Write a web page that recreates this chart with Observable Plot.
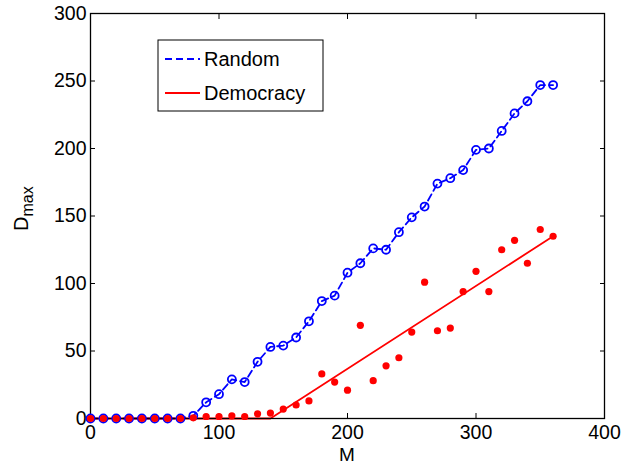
<!DOCTYPE html>
<html>
<head>
<meta charset="utf-8">
<script src="https://cdn.jsdelivr.net/npm/d3@7"></script>
<script src="https://cdn.jsdelivr.net/npm/@observablehq/plot@0.6"></script>
<style>
  html, body { margin: 0; padding: 0; background: #fff; }
  #chart svg { display: block; }
</style>
</head>
<body>
<div id="chart"></div>
<script>
// ---- data ----
const M = [0,10,20,30,40,50,60,70,80,90,100,110,120,130,140,150,160,170,180,190,200,210,220,230,240,250,260,270,280,290,300,310,320,330,340,350,360];
const randomD = [0,0,0,0,0,0,0,0,2,12,18,29,27,42,53,54,60,72,87,91,108,115,126,125,138,149,157,174,178,184,199,200,213,226,235,247,247];
const democracyD = [0,0,0,0,0,0,0,0,0.5,1.5,1.5,2,1.5,3.5,4,7,10,13,33,27,21,69,28,39,45,64,101,65,67,94,109,94,125,132,115,140,135];
const fitM = [0,140,360];
const fitD = [0,0,135];
const xTicks = [0,100,200,300,400];
const yTicks = [0,50,100,150,200,250,300];
const seriesNames = ["Random","Democracy"];
const colors = ["#0000ff","#ff0000"];

const randomData = M.map((m,i) => ({M: m, D: randomD[i]}));
const demoData = M.map((m,i) => ({M: m, D: democracyD[i]}));
const fitData = fitM.map((m,i) => ({M: m, D: fitD[i]}));

const font = "'Liberation Sans', Arial, Helvetica, sans-serif";

const chart = Plot.plot({
  width: 624,
  height: 465,
  marginLeft: 90,
  marginRight: 20,
  marginTop: 13,
  marginBottom: 47,
  style: {fontFamily: font, fontSize: "19.5px", color: "#000", background: "#fff"},
  x: {domain: [0,400]},
  y: {domain: [0,300]},
  marks: [
    Plot.line(randomData, {x: "M", y: "D", stroke: colors[0], strokeWidth: 1.8, strokeDasharray: "7,4"}),
    Plot.line(fitData, {x: "M", y: "D", stroke: colors[1], strokeWidth: 1.8}),
    Plot.frame({stroke: "#000", strokeWidth: 1.3}),
    Plot.axisX({ticks: xTicks, tickSize: -5, tickPadding: 12, label: null, tickFormat: d => d}),
    Plot.axisX({anchor: "top", ticks: xTicks, tickSize: -5, label: null, tickFormat: () => ""}),
    Plot.axisY({ticks: yTicks, tickSize: -5, tickPadding: 9, label: null, tickFormat: d => d}),
    Plot.axisY({anchor: "right", ticks: yTicks, tickSize: -5, label: null, tickFormat: () => ""}),
    Plot.dot(randomData, {x: "M", y: "D", r: 4, stroke: colors[0], strokeWidth: 1.8, fill: "none"}),
    Plot.dot(demoData, {x: "M", y: "D", r: 3.6, fill: colors[1], stroke: "none"})
  ]
});

document.getElementById("chart").appendChild(chart);

const svg = d3.select(chart);
// x label
svg.append("text")
  .attr("x", 347).attr("y", 460.5)
  .attr("text-anchor", "middle")
  .attr("font-family", font).attr("font-size", 19)
  .attr("fill", "#000")
  .text("M");
// y label with subscript
const yl = svg.append("text")
  .attr("transform", "translate(28,231) rotate(-90)")
  .attr("text-anchor", "start")
  .attr("font-family", font).attr("font-size", 20)
  .attr("fill", "#000");
yl.append("tspan").text("D");
yl.append("tspan").attr("font-size", 16).attr("dy", 5).text("max");

// legend
const lg = svg.append("g").attr("font-family", font).attr("font-size", 20).attr("text-anchor", "start");
lg.append("rect").attr("x", 158).attr("y", 40).attr("width", 165).attr("height", 71)
  .attr("fill", "#fff").attr("stroke", "#000").attr("stroke-width", 1);
seriesNames.forEach((name, i) => {
  const y = 59 + i * 34;
  lg.append("line").attr("x1", 165).attr("x2", 200).attr("y1", y).attr("y2", y)
    .attr("stroke", colors[i]).attr("stroke-width", 1.8)
    .attr("stroke-dasharray", i === 0 ? "7,4" : null);
  lg.append("text").attr("x", 204).attr("y", y + 7).attr("fill", "#000")
    .attr("text-anchor", "start").text(name);
});
</script>
</body>
</html>
